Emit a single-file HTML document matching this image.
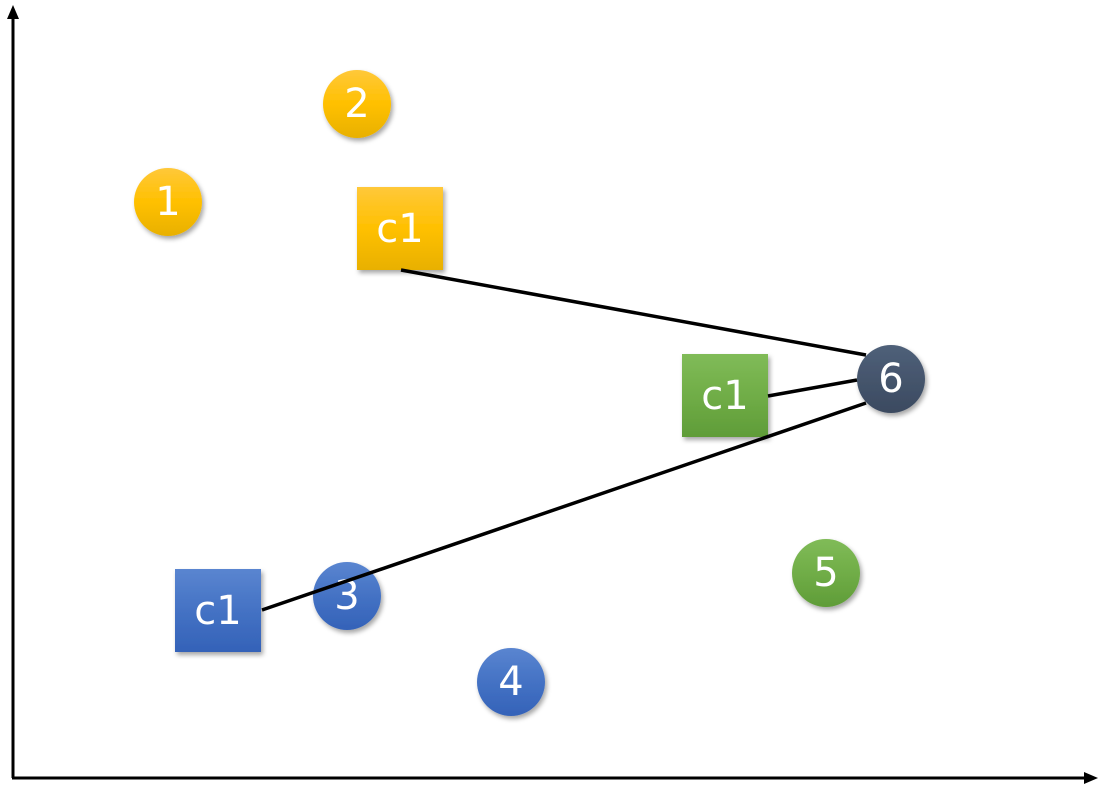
<!DOCTYPE html>
<html><head><meta charset="utf-8"><style>
html,body{margin:0;padding:0;background:#fff;}
</style></head><body>
<svg width="1100" height="789" viewBox="0 0 1100 789" xmlns="http://www.w3.org/2000/svg" style="display:block">
<defs>
<linearGradient id="gy" x1="0" y1="0" x2="0" y2="1"><stop offset="0" stop-color="#ffc83a"/><stop offset="0.5" stop-color="#ffc000"/><stop offset="1" stop-color="#e8b000"/></linearGradient>
<linearGradient id="gb" x1="0" y1="0" x2="0" y2="1"><stop offset="0" stop-color="#5a85d0"/><stop offset="0.5" stop-color="#4472c4"/><stop offset="1" stop-color="#3462b8"/></linearGradient>
<linearGradient id="gg" x1="0" y1="0" x2="0" y2="1"><stop offset="0" stop-color="#80bb58"/><stop offset="0.5" stop-color="#70ad47"/><stop offset="1" stop-color="#5f9c38"/></linearGradient>
<linearGradient id="gd" x1="0" y1="0" x2="0" y2="1"><stop offset="0" stop-color="#4f6079"/><stop offset="1" stop-color="#3b4a60"/></linearGradient>
<filter id="sh" x="-30%" y="-30%" width="160%" height="160%"><feDropShadow dx="2" dy="3" stdDeviation="2.5" flood-color="#000" flood-opacity="0.35"/></filter>
</defs>
<line x1="13" y1="778" x2="13" y2="16" stroke="#000" stroke-width="3"/>
<polygon points="13,5 7,19 19,19" fill="#000"/>
<line x1="12" y1="778" x2="1086" y2="778" stroke="#000" stroke-width="3"/>
<polygon points="1098,778 1084,772 1084,784" fill="#000"/>
<g font-family="'Segoe UI','DejaVu Sans','Liberation Sans',sans-serif" font-size="40" fill="#fff" text-anchor="middle" dominant-baseline="central">
<circle cx="168" cy="202" r="34" fill="url(#gy)" filter="url(#sh)"/><text x="168" y="202">1</text>
<circle cx="357" cy="104" r="34" fill="url(#gy)" filter="url(#sh)"/><text x="357" y="104">2</text>
<circle cx="511" cy="682" r="34" fill="url(#gb)" filter="url(#sh)"/><text x="511" y="682">4</text>
<circle cx="826" cy="573" r="34" fill="url(#gg)" filter="url(#sh)"/><text x="826" y="573">5</text>
<rect x="357" y="187" width="86" height="83" fill="url(#gy)" filter="url(#sh)"/><text x="400" y="229">c1</text>
<rect x="682" y="354" width="86" height="83" fill="url(#gg)" filter="url(#sh)"/><text x="725" y="396">c1</text>
<circle cx="347" cy="596" r="34" fill="url(#gb)" filter="url(#sh)"/><text x="347" y="596">3</text>
<rect x="175" y="569" width="86" height="83" fill="url(#gb)" filter="url(#sh)"/><text x="218" y="611">c1</text>
<circle cx="891" cy="379" r="34" fill="url(#gd)" filter="url(#sh)"/><text x="891" y="379">6</text>
</g>
<g stroke="#000" stroke-width="3.5">
<line x1="401" y1="270" x2="866" y2="355"/>
<line x1="768" y1="396" x2="857" y2="380"/>
<line x1="262" y1="610" x2="866" y2="403"/>
</g>
</svg>
</body></html>
